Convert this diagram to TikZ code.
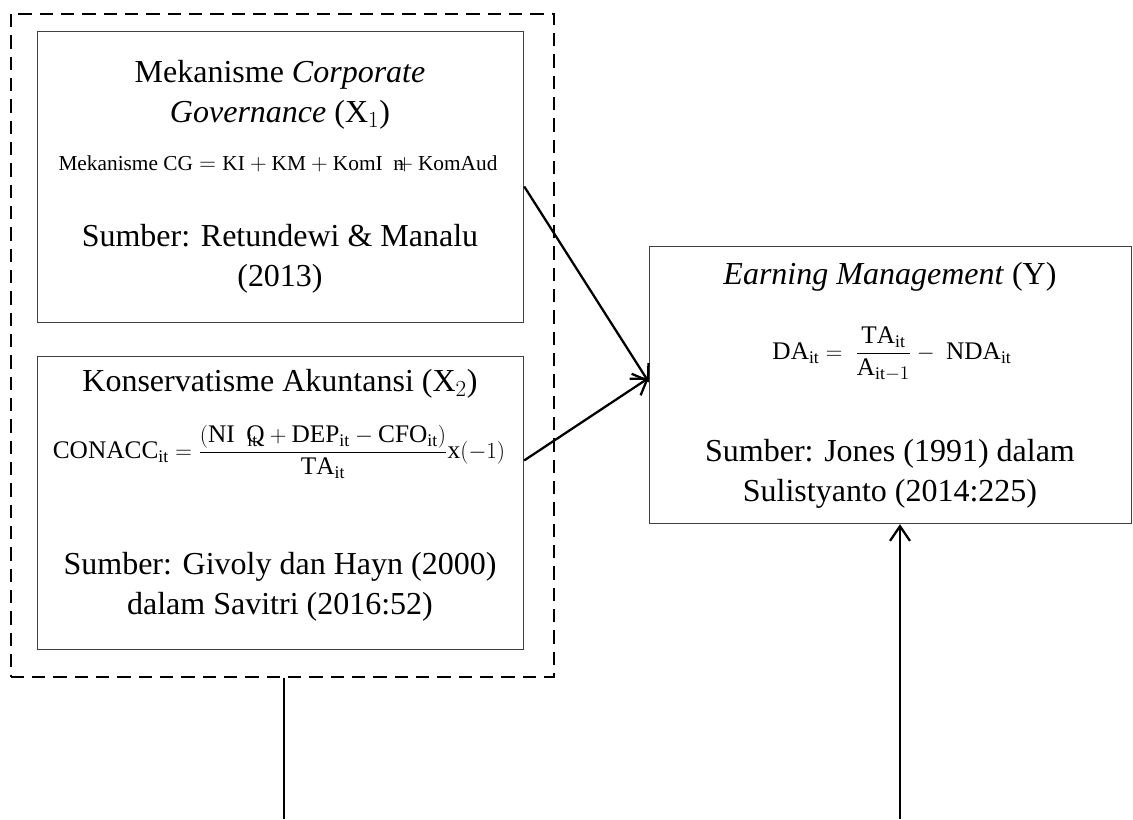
\documentclass[tikz,border=0pt]{standalone}
\usepackage{amsmath}
\usepackage{fontspec}
\setmainfont{Liberation Serif}
\setmathrm{Liberation Serif}
\usetikzlibrary{positioning,arrows.meta}

\begin{document}
\begin{tikzpicture}[x=0.75pt,y=0.75pt,yscale=-1,xscale=1,
  varbox/.style={draw=black!75,line width=0.9pt,inner sep=0pt,anchor=north west},
  groupbox/.style={draw,dash pattern=on 10pt off 6pt,line width=1.2pt,inner sep=0pt,anchor=north west},
  title/.style={font=\fontsize{24}{30}\selectfont,align=center},
  formula/.style={font=\fontsize{16}{19}\selectfont},
  bigformula/.style={font=\fontsize{19}{22}\selectfont},
  link/.style={line width=1.7pt,-{Straight Barb[length=11pt,width=15pt,line width=1.7pt]}}]
\useasboundingbox (0,0) rectangle (1133,819);

%Group: dashed frame round X1 and X2
\node [groupbox,minimum width=407.25pt,minimum height=497.25pt] (grp) at (10,13) {};
%Flowchart: Process X1
\node [varbox,minimum width=364.5pt,minimum height=218.25pt] (x1) at (37,31) {};
%Flowchart: Process X2
\node [varbox,minimum width=364.5pt,minimum height=219.75pt] (x2) at (37,356) {};
%Flowchart: Process Y
\node [varbox,minimum width=361.5pt,minimum height=207.75pt] (y) at (649,246) {};

% Text Node
\node [title] (x1name) at (280,95) {Mekanisme \textit{Corporate}\\\textit{Governance} ($\mathrm{X}_1$)};
\node [formula] (x1eq) at (278,164) {$\mathrm{Mekanisme\ CG} = \mathrm{KI} + \mathrm{KM} + \mathrm{KomI}\ \ \mathrm{n}\mkern-10mu+\mathrm{KomAud}$};
\node [title] (x1src) at (280,259) {Sumber: Retundewi \& Manalu\\(2013)};

\node [title] (x2name) at (280,384) {Konservatisme Akuntansi ($\mathrm{X}_2$)};
\node [bigformula] (x2eq) at (279,452) {$\mathrm{CONACC}_{\mathrm{it}} = \dfrac{(\mathrm{NI}\ \ {}_{\mathrm{it}}\mkern-9mu\mathrm{Q}+\mathrm{DEP}_{\mathrm{it}}-\mathrm{CFO}_{\mathrm{it}})}{\mathrm{TA}_{\mathrm{it}}}\mathrm{x}(-1)$};
\node [title] (x2src) at (280,587) {Sumber: Givoly dan Hayn (2000)\\dalam Savitri (2016:52)};

\node [title] (yname) at (890,277) {\textit{Earning Management} (Y)};
\node [bigformula] (yeq) at (892,354) {$\mathrm{DA}_{\mathrm{it}} =\ \dfrac{\mathrm{TA}_{\mathrm{it}}}{\mathrm{A}_{\mathrm{it}-1}} -\ \mathrm{NDA}_{\mathrm{it}}$};
\node [title] (ysrc) at (890,474) {Sumber: Jones (1991) dalam\\Sulistyanto (2014:225)};

% Connectors
\coordinate (bl) at (284,819);
\coordinate (br) at (900,819);
\draw [link] ([yshift=7pt]x1.east) -- ([yshift=-2pt]y.west);
\draw [link] ([yshift=-32pt]x2.east) -- ([yshift=-5.5pt]y.west);
\draw [line width=2pt] (bl |- grp.south) -- (bl);
\draw [link] (br) -- (br |- y.south);
\end{tikzpicture}
\end{document}
